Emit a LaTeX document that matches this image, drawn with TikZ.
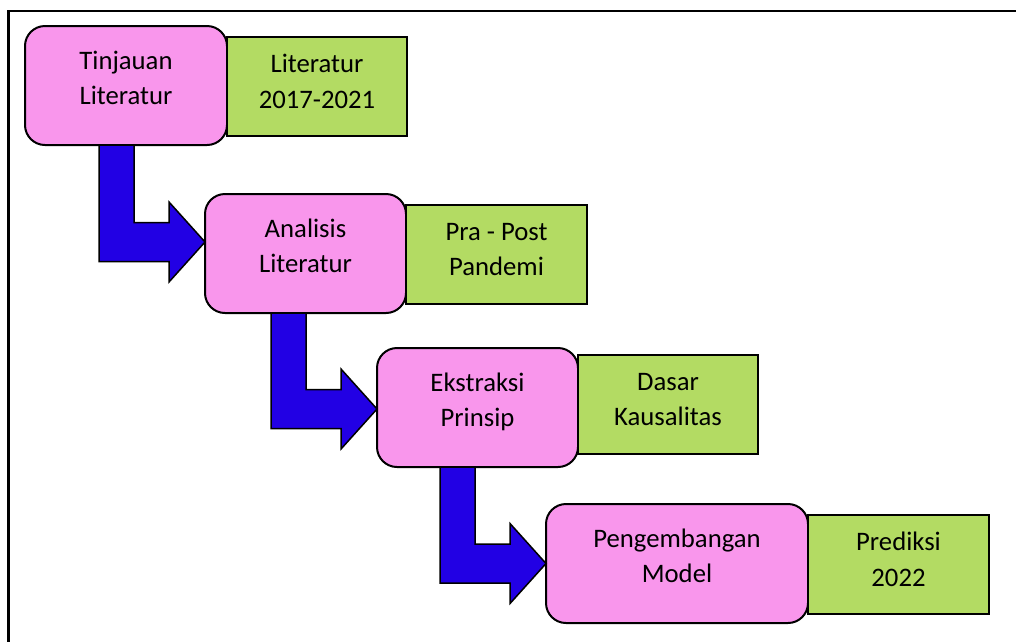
\documentclass[tikz,border=0pt]{standalone}
\usepackage{fontspec}
\setmainfont{Carlito}
\usetikzlibrary{calc}
\definecolor{boxpink}{RGB}{249,150,236}
\definecolor{boxgreen}{RGB}{179,219,99}
\definecolor{arrowblue}{RGB}{34,0,228}
\tikzset{
  basebox/.style={draw=black, line width=2pt, outer sep=0pt, inner sep=0pt,
    align=center, font=\fontsize{26.7}{35.5}\selectfont},
  pinkbox/.style={basebox, fill=boxpink, rounded corners=20pt,
    minimum width=#1, minimum height=119pt, text height=38pt, text depth=0pt},
  greenbox/.style={basebox, fill=boxgreen, anchor=west,
    minimum width=180pt, minimum height=99pt, text height=43pt, text depth=0pt},
  flowarrow/.style={draw=black, line width=1.5pt, fill=arrowblue, line join=miter},
}
\newcommand\bentarrow[2]{%
  \coordinate (#2L) at ($(#2)+(-106,0)$);
  \coordinate (#2R) at ($(#2)+(-71,0)$);
  \draw[flowarrow] (#2L |- #1.south) -- (#2R |- #1.south)
    -- ($(#2)+(-71,-19.5)$) -- ($(#2)+(-36,-19.5)$) -- ($(#2)+(-36,-40)$)
    -- (#2) -- ($(#2)+(-36,40)$) -- ($(#2)+(-36,19.5)$)
    -- ($(#2)+(-106,19.5)$) -- cycle;}
\begin{document}
\begin{tikzpicture}[x=1pt,y=-1pt]
\useasboundingbox (0,0) rectangle (1016,641);
\draw[line width=2.2pt] (8.5,1200) -- (8.5,11) -- (1200,11);
% process boxes
\node[pinkbox=202pt] (p1) at (126,85.5) {Tinjauan\\Literatur};
\node[pinkbox=201pt] (p2) at (305.5,253.5) {Analisis\\Literatur};
\node[pinkbox=201pt] (p3) at (477.5,407.5) {Ekstraksi\\Prinsip};
\node[pinkbox=262pt] (p4) at (677,563.5) {Pengembangan\\Model};
% side boxes
\node[greenbox] (g1) at ($(p1.east)+(0,1)$) {Literatur\\2017-2021};
\node[greenbox, minimum width=181pt] (g2) at ($(p2.east)+(0,0.5)$) {Pra - Post\\Pandemi};
\node[greenbox] (g3) at ($(p3.east)+(0,-3.5)$) {Dasar\\Kausalitas};
\node[greenbox, minimum width=181pt] (g4) at ($(p4.east)+(0,1)$) {Prediksi\\2022};
% arrows
\coordinate (t1) at ($(p2.west)+(0,-11.5)$);
\coordinate (t2) at ($(p3.west)+(0,1.5)$);
\coordinate (t3) at (p4.west);
\bentarrow{p1}{t1}
\bentarrow{p2}{t2}
\bentarrow{p3}{t3}
\end{tikzpicture}
\end{document}
